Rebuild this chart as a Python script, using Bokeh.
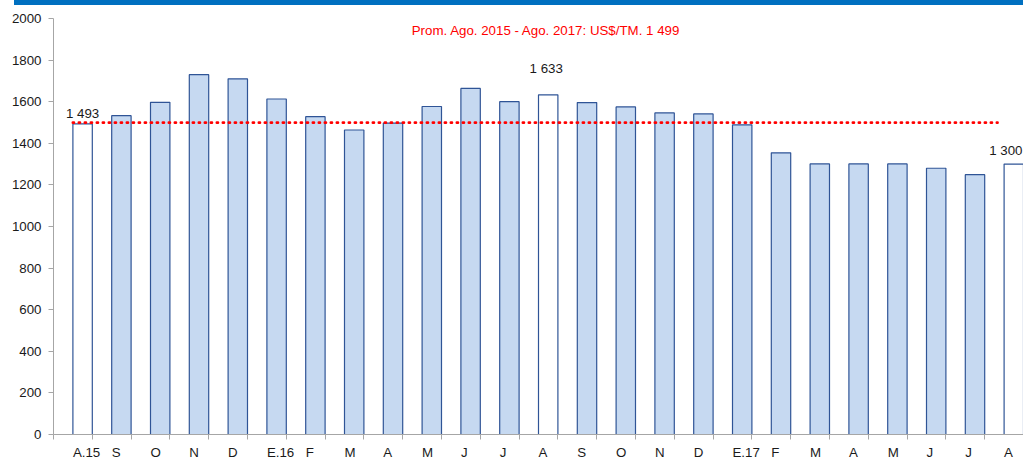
from bokeh.plotting import figure
from bokeh.models import Range1d, FixedTicker, ColumnDataSource, LabelSet, Label, Div
from bokeh.layouts import column
from bokeh.core.properties import value
from bokeh.embed import file_html
from bokeh.resources import INLINE

# ---- data ----
months = ["A.15", "S", "O", "N", "D", "E.16", "F", "M", "A", "M", "J", "J", "A",
          "S", "O", "N", "D", "E.17", "F", "M", "A", "M", "J", "J", "A"]
prices = [1493, 1533, 1597, 1730, 1710, 1613, 1528, 1464, 1497, 1577, 1664, 1600, 1633,
          1596, 1575, 1546, 1541, 1489, 1354, 1301, 1301, 1301, 1280, 1249, 1300]
highlight = [0, 12, 24]
average = 1499
avg_text = "Prom. Ago. 2015 - Ago. 2017: US$/TM. 1 499"
y_ticks = list(range(0, 2001, 200))

# ---- style ----
FONT = "Liberation Sans"
FS = 13.3
n = len(months)
W, H = 1023, 457
LEFT, RIGHT, TOP, BOTTOM = 53, 0, 13, 20
cat_px = (W - LEFT - RIGHT) / n

em = {"A": .667, "S": .667, "O": .778, "N": .722, "D": .722, "E": .667, "F": .611,
      "M": .833, "J": .5, ".": .278}
def text_w(s):
    return sum(em.get(c, .556) for c in s) * FS

p = figure(width=W, height=H, x_range=Range1d(0, n), y_range=Range1d(0, 2000),
           toolbar_location=None, output_backend="svg",
           min_border_left=LEFT, min_border_right=RIGHT,
           min_border_top=TOP, min_border_bottom=BOTTOM)
p.outline_line_color = None
p.xgrid.visible = False
p.ygrid.visible = False
p.background_fill_color = "white"
p.border_fill_color = "white"

fills = ["white" if i in highlight else "#c6d9f1" for i in range(n)]
src = ColumnDataSource(dict(x=[i + 0.75 for i in range(n)], top=prices, fill=fills))
p.vbar(x="x", top="top", bottom=0, width=0.5, source=src,
       fill_color="fill", line_color="#2f5496", line_width=1.2)

# average dotted line
p.line(x=[0.5, n - 0.67], y=[average, average], line_color="#ff0000",
       line_width=2.8, line_dash="1 5", line_cap="round")

p.add_layout(Label(x=12.7, y=2000, y_offset=-12, text=avg_text, text_color="#ff0000",
                   text_align="center", text_baseline="middle",
                   text_font=FONT, text_font_size=f"{FS}px"))

# value labels
lx_off = [0, -2, -8]
ly_off = [3, 19, 6]
lab_src = ColumnDataSource(dict(
    x=[highlight[k] + 0.75 for k in range(len(highlight))],
    y=[prices[i] for i in highlight],
    text=[f"{prices[i]:,}".replace(",", " ") for i in highlight],
    xo=lx_off, yo=ly_off))
p.add_layout(LabelSet(x="x", y="y", text="text", x_offset="xo", y_offset="yo",
                      source=lab_src, text_align="center", text_baseline="bottom",
                      text_font=value(FONT), text_font_size=value(f"{FS}px"),
                      text_color="#1a1a1a"))

# axes
AX = "#a6a6a6"
p.yaxis.ticker = FixedTicker(ticks=y_ticks)
p.yaxis.bounds = (0, 2000)
p.yaxis.axis_line_color = AX
p.yaxis.major_tick_line_color = AX
p.yaxis.major_tick_out = 5
p.yaxis.major_tick_in = 0
p.yaxis.minor_tick_line_color = None
p.yaxis.major_label_standoff = 7
p.yaxis.major_label_text_font = FONT
p.yaxis.major_label_text_font_size = f"{FS}px"
p.yaxis.major_label_text_color = "#1a1a1a"

label_pos = [round(i + 0.5 + text_w(m) / 2 / cat_px, 4) for i, m in enumerate(months)]
p.xaxis.ticker = FixedTicker(ticks=label_pos, minor_ticks=list(range(n + 1)))
p.xaxis.major_label_overrides = {pos: m for pos, m in zip(label_pos, months)}
p.xaxis.axis_line_color = AX
p.xaxis.major_tick_line_color = None
p.xaxis.minor_tick_line_color = AX
p.xaxis.minor_tick_out = 5
p.xaxis.minor_tick_in = 0
p.xaxis.major_label_standoff = 4
p.xaxis.major_label_text_font = FONT
p.xaxis.major_label_text_font_size = f"{FS}px"
p.xaxis.major_label_text_color = "#1a1a1a"

band = Div(text="", width=W - 14, height=5, margin=(0, 0, 0, 14),
           styles={"background-color": "#0070C0"})

layout = column(band, p, spacing=0)
open("out.html", "w").write(file_html(layout, INLINE))
